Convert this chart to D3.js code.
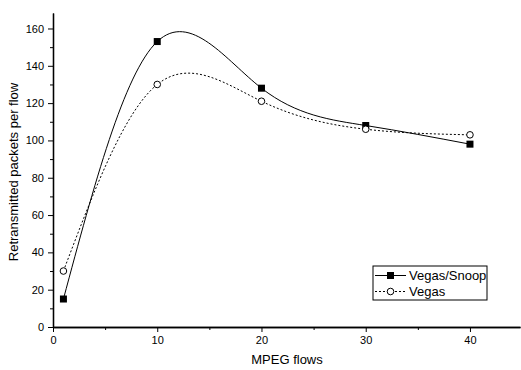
<!DOCTYPE html>
<html>
<head>
<meta charset="utf-8">
<script src="https://cdn.jsdelivr.net/npm/d3@7"></script>
<style>
  body { margin: 0; background: #fff; }
  text { font-family: Arial, "Liberation Sans", sans-serif; }
</style>
</head>
<body>
<script>
var flows = [1, 10, 20, 30, 40];
var snoopVals = [15, 153, 128, 108, 98];
var vegasVals = [30, 130, 121, 106, 103];
var xTicks = [0, 10, 20, 30, 40];
var yTicks = [0, 20, 40, 60, 80, 100, 120, 140, 160];

var width = 521, height = 370;
var m = {left: 53, top: 13, right: 1, bottom: 43};

var svg = d3.select("body").append("svg")
  .attr("width", width).attr("height", height);

var x = d3.scaleLinear().domain([0, 44.8]).range([m.left, width - m.right]);
var y = d3.scaleLinear().domain([0, 168.3]).range([height - m.bottom, m.top]);

// axes, major + minor ticks
svg.append("g")
  .attr("transform", "translate(0," + y(0) + ")")
  .call(d3.axisBottom(x).tickValues(xTicks).tickSize(5).tickSizeOuter(0).tickPadding(4));
svg.append("g")
  .attr("transform", "translate(0," + y(0) + ")")
  .call(d3.axisBottom(x).tickValues([5, 15, 25, 35]).tickSize(3).tickSizeOuter(0).tickFormat(""));
svg.append("g")
  .attr("transform", "translate(" + x(0) + ",0)")
  .call(d3.axisLeft(y).tickValues(yTicks).tickSize(5).tickSizeOuter(0).tickPadding(4));
svg.append("g")
  .attr("transform", "translate(" + x(0) + ",0)")
  .call(d3.axisLeft(y).tickValues([10, 30, 50, 70, 90, 110, 130, 150]).tickSize(3).tickSizeOuter(0).tickFormat(""));

svg.selectAll(".domain").attr("stroke", "#000").attr("stroke-width", 1.3);
svg.selectAll(".tick line").attr("stroke", "#000");
svg.selectAll(".tick text").attr("font-size", 11).attr("fill", "#000");

// axis titles
svg.append("text")
  .attr("x", 287).attr("y", 364)
  .attr("text-anchor", "middle").attr("font-size", 13)
  .text("MPEG flows");
svg.append("text")
  .attr("transform", "translate(18,172) rotate(-90)")
  .attr("text-anchor", "middle").attr("font-size", 13)
  .text("Retransmitted packets per flow");

var line = d3.line()
  .x(function (d) { return x(d[0]); })
  .y(function (d) { return y(d[1]); })
  .curve(d3.curveNatural);

var snoop = flows.map(function (f, i) { return [f, snoopVals[i]]; });
var vegas = flows.map(function (f, i) { return [f, vegasVals[i]]; });

svg.append("path").datum(vegas)
  .attr("d", line).attr("fill", "none")
  .attr("stroke", "#000").attr("stroke-width", 1)
  .attr("stroke-dasharray", "2,2");
svg.append("path").datum(snoop)
  .attr("d", line).attr("fill", "none")
  .attr("stroke", "#000").attr("stroke-width", 1);

svg.selectAll(".sq").data(snoop).enter().append("rect")
  .attr("x", function (d) { return x(d[0]) - 3.5; })
  .attr("y", function (d) { return y(d[1]) - 3.5; })
  .attr("width", 7).attr("height", 7).attr("fill", "#000");
svg.selectAll(".ci").data(vegas).enter().append("circle")
  .attr("cx", function (d) { return x(d[0]); })
  .attr("cy", function (d) { return y(d[1]); })
  .attr("r", 3.3).attr("fill", "#fff").attr("stroke", "#000").attr("stroke-width", 1);

// legend
var lg = svg.append("g").attr("transform", "translate(373,266)");
lg.append("rect").attr("width", 114).attr("height", 34)
  .attr("fill", "#fff").attr("stroke", "#000").attr("stroke-width", 1);
lg.append("line").attr("x1", 2).attr("x2", 33).attr("y1", 9.5).attr("y2", 9.5)
  .attr("stroke", "#000");
lg.append("rect").attr("x", 14).attr("y", 6).attr("width", 7).attr("height", 7).attr("fill", "#000");
lg.append("text").attr("x", 36).attr("y", 14).attr("font-size", 13).text("Vegas/Snoop");
lg.append("line").attr("x1", 2).attr("x2", 33).attr("y1", 25.5).attr("y2", 25.5)
  .attr("stroke", "#000").attr("stroke-dasharray", "2,2");
lg.append("circle").attr("cx", 17.5).attr("cy", 25.5).attr("r", 3.3)
  .attr("fill", "#fff").attr("stroke", "#000");
lg.append("text").attr("x", 36).attr("y", 30).attr("font-size", 13).text("Vegas");
</script>
</body>
</html>
